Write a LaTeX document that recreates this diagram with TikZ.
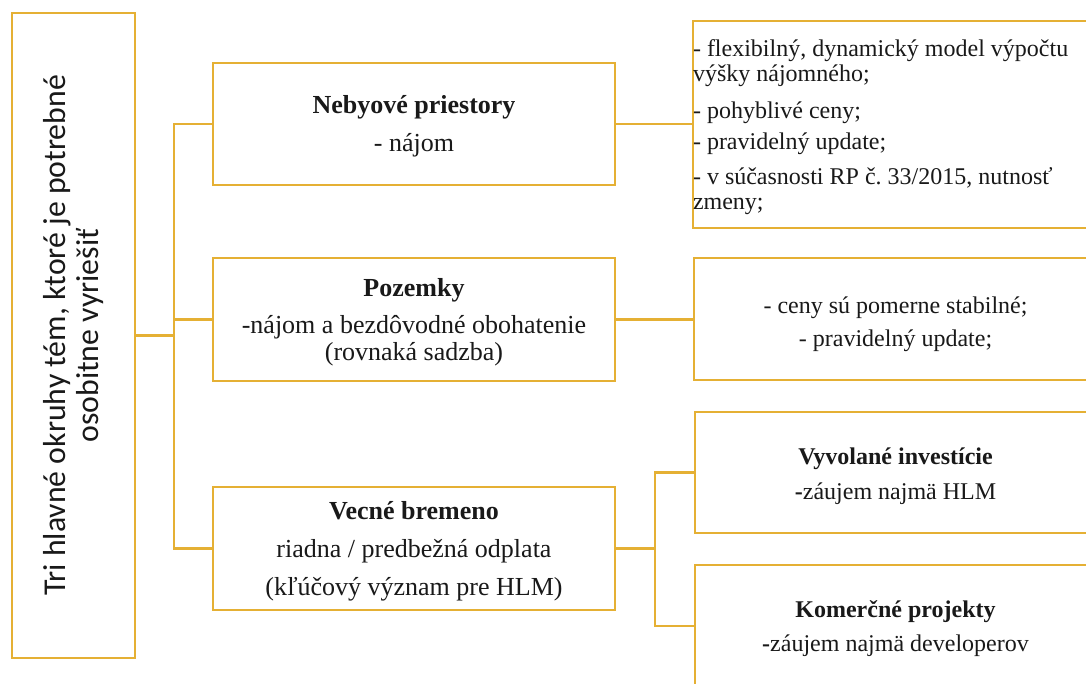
\documentclass[tikz,border=0pt]{standalone}
\usepackage{fontspec}
\setmainfont{Liberation Serif}
\newfontfamily\calib{Carlito}
\frenchspacing
\definecolor{gold}{RGB}{229,176,52}
\definecolor{ink}{RGB}{25,25,25}
\newcommand\topstrut[1]{\rule{0pt}{#1}}
\tikzset{
  box/.style={draw=gold, line width=2.4pt, fill=white, inner sep=0pt, text=ink, align=center},
  conn/.style={draw=gold, line width=2.4pt},
  midtxt/.style={font=\fontsize{26}{38}\selectfont},
  righttxt/.style={font=\fontsize{24}{33}\selectfont}
}
\begin{document}
\begin{tikzpicture}[x=1pt,y=-1pt]
\useasboundingbox (0,0) rectangle (1086,683);
\fill[white] (0,0) rectangle (1086,683);
\clip (0,0) rectangle (1086,683);

% left box (rotated)
\node[box, rotate=90, minimum width=645pt, minimum height=123pt,
      font=\calib\fontsize{31.8}{33}\selectfont] (left) at (73.5,335.5)
  {Tri hlavné okruhy tém, ktoré je potrebné\\osobitne vyriešiť};

% middle column
\node[box, midtxt, minimum width=402pt, minimum height=122pt] (neb) at (414,124)
  {\topstrut{22.2pt}\textbf{Nebyové priestory}\\- nájom};
\node[box, font=\fontsize{26}{26.7}\selectfont, minimum width=402pt, minimum height=123pt] (poz) at (414,319.5)
  {\topstrut{23.2pt}\textbf{Pozemky}\\[11pt]-nájom a bezdôvodné obohatenie\\(rovnaká sadzba)};
\node[box, midtxt, minimum width=402pt, minimum height=123pt] (vec) at (414,548.5)
  {\topstrut{23.2pt}\textbf{Vecné bremeno}\\riadna / predbežná odplata\\(kľúčový význam pre HLM)};

% right column
\node[box, font=\fontsize{24}{25}\selectfont, minimum width=403pt, minimum height=207pt,
      text width=403pt, align=flush left] (r1) at (894.5,124.5)
  {\topstrut{22.6pt}- flexibilný, dynamický model výpočtu\\výšky nájomného;\\[12pt]- pohyblivé ceny;\\[6pt]- pravidelný update;\\[10pt]- v súčasnosti RP č. 33/2015, nutnosť\\zmeny;};
\node[box, righttxt, minimum width=403pt, minimum height=122pt] (r2) at (895.5,319)
  {\topstrut{27pt}- ceny sú pomerne stabilné;\\- pravidelný update;};
\node[box, font=\fontsize{24}{35}\selectfont, minimum width=401pt, minimum height=121pt] (vyv) at (895.5,472.5)
  {\topstrut{24.8pt}\textbf{Vyvolané investície}\\\textbf{-}záujem najmä HLM};
\node[box, font=\fontsize{24}{34}\selectfont, minimum width=401pt, minimum height=122pt] (kom) at (895.5,626)
  {\topstrut{22.8pt}\textbf{Komerčné projekty}\\\textbf{-}záujem najmä developerov};

% connectors
\coordinate (busL) at (174,0);
\coordinate (busR) at (655,0);
\draw[conn] (left.south) -- (left.south -| busL);
\draw[conn] (neb.west) -- (neb.west -| busL) -- (vec.west -| busL) -- (vec.west);
\draw[conn] (poz.west -| busL) -- (poz.west);
\draw[conn] (neb.east) -- (neb.east -| r1.west);
\draw[conn] (poz.east) -- (poz.east -| r2.west);
\draw[conn] (vec.east) -- (vec.east -| busR);
\draw[conn] (vyv.west) -- (vyv.west -| busR) -- (kom.west -| busR) -- (kom.west);
\end{tikzpicture}
\end{document}
